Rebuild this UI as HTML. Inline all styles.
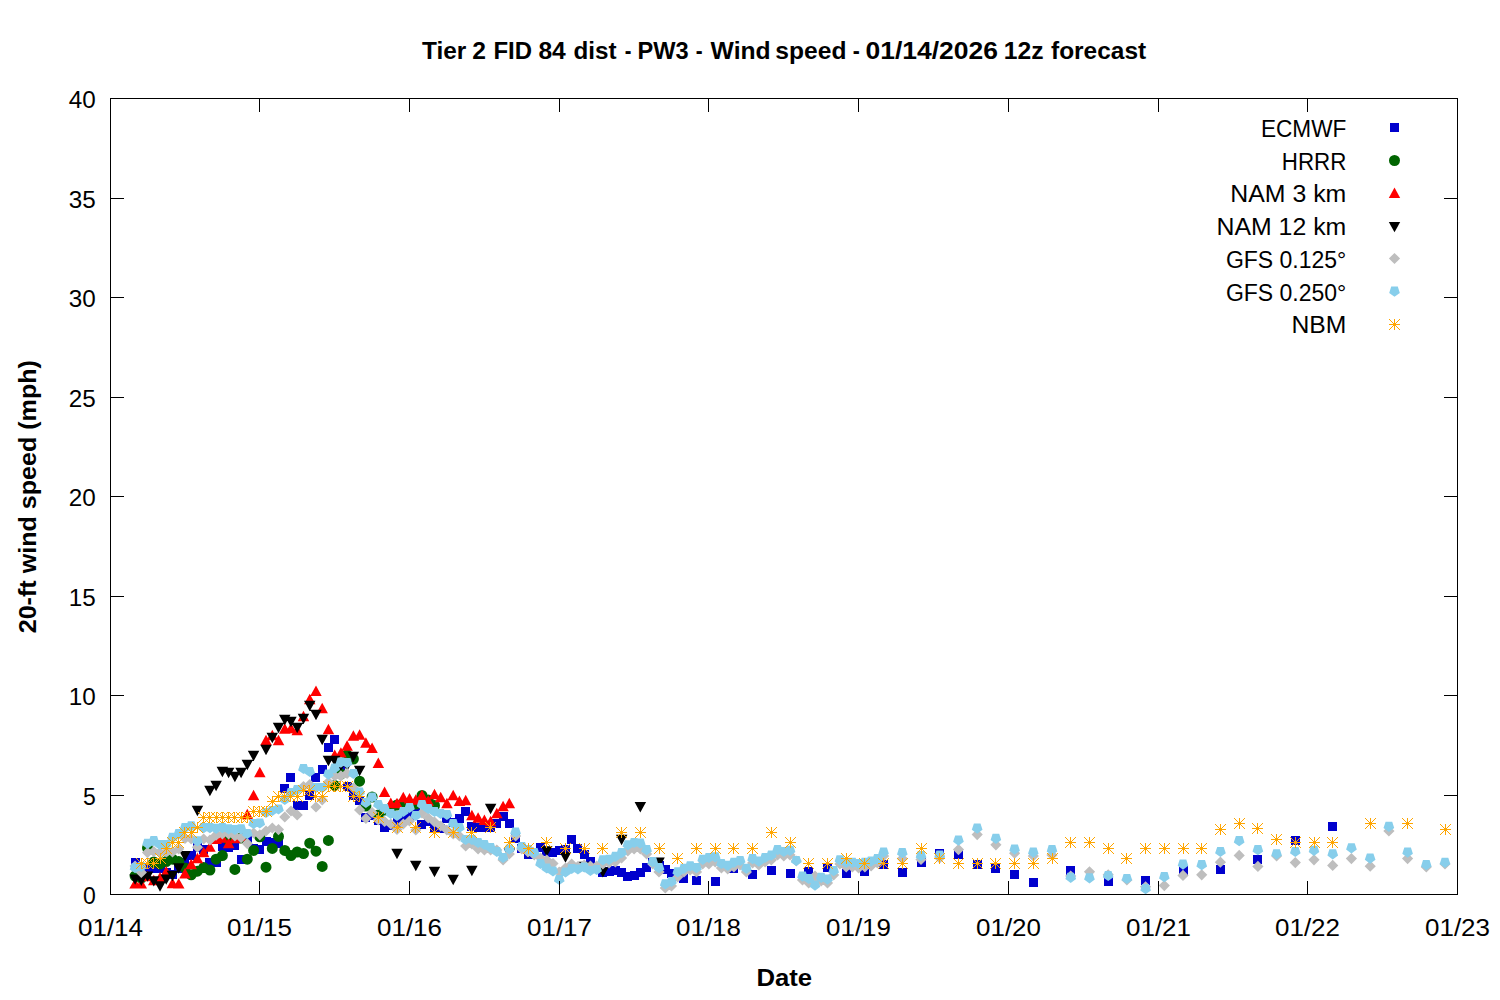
<!DOCTYPE html><html><head><meta charset="utf-8"><title>Wind speed forecast</title><style>html,body{margin:0;padding:0;background:#fff;}svg{display:block;}text{font-family:"Liberation Sans",sans-serif;fill:#000;}</style></head><body>
<svg width="1500" height="1000" viewBox="0 0 1500 1000">
<rect width="1500" height="1000" fill="#fff"/>
<path d="M131 858h9v9h-9zM137 863h9v9h-9zM143 863h9v9h-9zM149 864h9v9h-9zM156 864h9v9h-9zM162 868h9v9h-9zM168 870h9v9h-9zM174 864h9v9h-9zM180 858h9v9h-9zM187 851h9v9h-9zM193 843h9v9h-9zM199 845h9v9h-9zM205 858h9v9h-9zM212 858h9v9h-9zM218 842h9v9h-9zM224 843h9v9h-9zM230 841h9v9h-9zM237 855h9v9h-9zM243 836h9v9h-9zM249 844h9v9h-9zM255 845h9v9h-9zM262 837h9v9h-9zM268 838h9v9h-9zM274 839h9v9h-9zM280 784h9v9h-9zM286 773h9v9h-9zM293 801h9v9h-9zM299 801h9v9h-9zM305 791h9v9h-9zM311 773h9v9h-9zM318 765h9v9h-9zM324 743h9v9h-9zM330 735h9v9h-9zM336 766h9v9h-9zM343 782h9v9h-9zM349 791h9v9h-9zM355 796h9v9h-9zM361 813h9v9h-9zM368 811h9v9h-9zM374 816h9v9h-9zM380 823h9v9h-9zM386 821h9v9h-9zM393 818h9v9h-9zM399 814h9v9h-9zM405 811h9v9h-9zM411 803h9v9h-9zM417 820h9v9h-9zM424 817h9v9h-9zM430 824h9v9h-9zM436 824h9v9h-9zM442 814h9v9h-9zM449 818h9v9h-9zM455 814h9v9h-9zM461 807h9v9h-9zM467 822h9v9h-9zM474 823h9v9h-9zM480 823h9v9h-9zM486 823h9v9h-9zM492 819h9v9h-9zM499 812h9v9h-9zM505 819h9v9h-9zM511 834h9v9h-9zM517 844h9v9h-9zM524 850h9v9h-9zM530 850h9v9h-9zM536 843h9v9h-9zM542 847h9v9h-9zM548 848h9v9h-9zM555 846h9v9h-9zM561 845h9v9h-9zM567 835h9v9h-9zM573 844h9v9h-9zM580 850h9v9h-9zM586 857h9v9h-9zM592 863h9v9h-9zM598 868h9v9h-9zM605 867h9v9h-9zM611 866h9v9h-9zM617 868h9v9h-9zM623 872h9v9h-9zM630 871h9v9h-9zM636 868h9v9h-9zM642 863h9v9h-9zM648 858h9v9h-9zM655 861h9v9h-9zM661 865h9v9h-9zM667 869h9v9h-9zM673 872h9v9h-9zM679 874h9v9h-9zM692 876h9v9h-9zM711 877h9v9h-9zM729 864h9v9h-9zM748 870h9v9h-9zM767 866h9v9h-9zM786 869h9v9h-9zM804 867h9v9h-9zM823 863h9v9h-9zM842 869h9v9h-9zM860 867h9v9h-9zM879 860h9v9h-9zM898 868h9v9h-9zM917 858h9v9h-9zM935 849h9v9h-9zM954 850h9v9h-9zM973 860h9v9h-9zM991 864h9v9h-9zM1010 870h9v9h-9zM1029 878h9v9h-9zM1066 866h9v9h-9zM1104 877h9v9h-9zM1141 876h9v9h-9zM1179 866h9v9h-9zM1216 865h9v9h-9zM1253 855h9v9h-9zM1291 836h9v9h-9zM1328 822h9v9h-9z" fill="#0000cd"/>
<path d="M129.6 876a5.5 5.5 0 1 0 11.0 0a5.5 5.5 0 1 0 -11.0 0zM135.8 878a5.5 5.5 0 1 0 11.0 0a5.5 5.5 0 1 0 -11.0 0zM142 848a5.5 5.5 0 1 0 11.0 0a5.5 5.5 0 1 0 -11.0 0zM148.3 862a5.5 5.5 0 1 0 11.0 0a5.5 5.5 0 1 0 -11.0 0zM154.5 864a5.5 5.5 0 1 0 11.0 0a5.5 5.5 0 1 0 -11.0 0zM160.7 861.6a5.5 5.5 0 1 0 11.0 0a5.5 5.5 0 1 0 -11.0 0zM167 859.2a5.5 5.5 0 1 0 11.0 0a5.5 5.5 0 1 0 -11.0 0zM173.2 861.6a5.5 5.5 0 1 0 11.0 0a5.5 5.5 0 1 0 -11.0 0zM179.5 868a5.5 5.5 0 1 0 11.0 0a5.5 5.5 0 1 0 -11.0 0zM185.7 874.8a5.5 5.5 0 1 0 11.0 0a5.5 5.5 0 1 0 -11.0 0zM191.9 871.2a5.5 5.5 0 1 0 11.0 0a5.5 5.5 0 1 0 -11.0 0zM198.2 867.6a5.5 5.5 0 1 0 11.0 0a5.5 5.5 0 1 0 -11.0 0zM204.4 870a5.5 5.5 0 1 0 11.0 0a5.5 5.5 0 1 0 -11.0 0zM210.6 859.2a5.5 5.5 0 1 0 11.0 0a5.5 5.5 0 1 0 -11.0 0zM216.9 855.6a5.5 5.5 0 1 0 11.0 0a5.5 5.5 0 1 0 -11.0 0zM223.1 840a5.5 5.5 0 1 0 11.0 0a5.5 5.5 0 1 0 -11.0 0zM229.4 869.4a5.5 5.5 0 1 0 11.0 0a5.5 5.5 0 1 0 -11.0 0zM235.6 838a5.5 5.5 0 1 0 11.0 0a5.5 5.5 0 1 0 -11.0 0zM241.8 859.2a5.5 5.5 0 1 0 11.0 0a5.5 5.5 0 1 0 -11.0 0zM248.1 850.4a5.5 5.5 0 1 0 11.0 0a5.5 5.5 0 1 0 -11.0 0zM254.3 836.8a5.5 5.5 0 1 0 11.0 0a5.5 5.5 0 1 0 -11.0 0zM260.5 867.2a5.5 5.5 0 1 0 11.0 0a5.5 5.5 0 1 0 -11.0 0zM266.8 848.4a5.5 5.5 0 1 0 11.0 0a5.5 5.5 0 1 0 -11.0 0zM273 836.4a5.5 5.5 0 1 0 11.0 0a5.5 5.5 0 1 0 -11.0 0zM279.3 850.4a5.5 5.5 0 1 0 11.0 0a5.5 5.5 0 1 0 -11.0 0zM285.5 855.6a5.5 5.5 0 1 0 11.0 0a5.5 5.5 0 1 0 -11.0 0zM291.7 852a5.5 5.5 0 1 0 11.0 0a5.5 5.5 0 1 0 -11.0 0zM298 853.6a5.5 5.5 0 1 0 11.0 0a5.5 5.5 0 1 0 -11.0 0zM304.2 843.2a5.5 5.5 0 1 0 11.0 0a5.5 5.5 0 1 0 -11.0 0zM310.5 851.2a5.5 5.5 0 1 0 11.0 0a5.5 5.5 0 1 0 -11.0 0zM316.7 866.4a5.5 5.5 0 1 0 11.0 0a5.5 5.5 0 1 0 -11.0 0zM322.9 840.4a5.5 5.5 0 1 0 11.0 0a5.5 5.5 0 1 0 -11.0 0zM329.2 785.4a5.5 5.5 0 1 0 11.0 0a5.5 5.5 0 1 0 -11.0 0zM335.4 774a5.5 5.5 0 1 0 11.0 0a5.5 5.5 0 1 0 -11.0 0zM341.6 754.8a5.5 5.5 0 1 0 11.0 0a5.5 5.5 0 1 0 -11.0 0zM347.9 759a5.5 5.5 0 1 0 11.0 0a5.5 5.5 0 1 0 -11.0 0zM354.1 781.2a5.5 5.5 0 1 0 11.0 0a5.5 5.5 0 1 0 -11.0 0zM360.4 806a5.5 5.5 0 1 0 11.0 0a5.5 5.5 0 1 0 -11.0 0zM366.6 797a5.5 5.5 0 1 0 11.0 0a5.5 5.5 0 1 0 -11.0 0zM372.8 815a5.5 5.5 0 1 0 11.0 0a5.5 5.5 0 1 0 -11.0 0zM379.1 810a5.5 5.5 0 1 0 11.0 0a5.5 5.5 0 1 0 -11.0 0zM385.3 808a5.5 5.5 0 1 0 11.0 0a5.5 5.5 0 1 0 -11.0 0zM391.5 805a5.5 5.5 0 1 0 11.0 0a5.5 5.5 0 1 0 -11.0 0zM397.8 803a5.5 5.5 0 1 0 11.0 0a5.5 5.5 0 1 0 -11.0 0zM404 806a5.5 5.5 0 1 0 11.0 0a5.5 5.5 0 1 0 -11.0 0zM410.3 804a5.5 5.5 0 1 0 11.0 0a5.5 5.5 0 1 0 -11.0 0zM416.5 795.5a5.5 5.5 0 1 0 11.0 0a5.5 5.5 0 1 0 -11.0 0zM422.7 800a5.5 5.5 0 1 0 11.0 0a5.5 5.5 0 1 0 -11.0 0zM429 805.5a5.5 5.5 0 1 0 11.0 0a5.5 5.5 0 1 0 -11.0 0z" fill="#006400"/>
<path d="M135.1 878.2L140.8 888.6H129.3zM141.3 878.2L147 888.6H135.5zM147.5 870.8L153.3 881.2H141.8zM153.8 874.8L159.5 885.2H148zM160 872L165.8 882.4H154.3zM166.2 866L172 876.4H160.5zM172.5 877.8L178.2 888.2H166.7zM178.7 878.2L184.5 888.6H173zM185 868L190.7 878.4H179.2zM191.2 858.8L196.9 869.2H185.4zM197.4 852.8L203.2 863.2H191.7zM203.7 846.8L209.4 857.2H197.9zM209.9 841.4L215.7 851.8H204.2zM216.1 833.6L221.9 844H210.4zM222.4 832.4L228.1 842.8H216.6zM228.6 837.8L234.4 848.2H222.9zM234.9 832.8L240.6 843.2H229.1zM241.1 830.8L246.8 841.2H235.3zM247.3 808.8L253.1 819.2H241.6zM253.6 789.8L259.3 800.2H247.8zM259.8 766.8L265.6 777.2H254.1zM266 734.8L271.8 745.2H260.3zM272.3 729.8L278 740.2H266.5zM278.5 734.8L284.3 745.2H272.8zM284.8 723.3L290.5 733.7H279zM291 722.8L296.7 733.2H285.2zM297.2 724.8L303 735.2H291.5zM303.5 710.8L309.2 721.2H297.7zM309.7 693.8L315.5 704.2H304zM316 685.5L321.7 695.9H310.2zM322.2 702.8L327.9 713.2H316.4zM328.4 723.8L334.2 734.2H322.7zM334.7 749.6L340.4 760H328.9zM340.9 747.2L346.7 757.6H335.2zM347.1 740.3L352.9 750.7H341.4zM353.4 730.3L359.1 740.7H347.6zM359.6 729.3L365.4 739.7H353.9zM365.9 737.3L371.6 747.7H360.1zM372.1 742.5L377.8 752.9H366.3zM378.3 757.6L384.1 768H372.6zM384.6 786.6L390.3 797H378.8zM390.8 797.6L396.6 808H385.1zM397 797.8L402.8 808.2H391.3zM403.3 791.8L409 802.2H397.5zM409.5 793L415.3 803.4H403.8zM415.8 794.3L421.5 804.7H410zM422 789.8L427.7 800.2H416.2zM428.2 795.3L434 805.7H422.5zM434.5 788.8L440.2 799.2H428.7zM440.7 791.8L446.5 802.2H435zM446.9 797.8L452.7 808.2H441.2zM453.2 789.8L458.9 800.2H447.4zM459.4 795.6L465.2 806H453.7zM465.7 794.8L471.4 805.2H459.9zM471.9 809.8L477.6 820.2H466.1zM478.1 812.3L483.9 822.7H472.4zM484.4 814.6L490.1 825H478.6zM490.6 815.8L496.4 826.2H484.9zM496.8 807.8L502.6 818.2H491.1zM503.1 800.8L508.8 811.2H497.3zM509.3 797.8L515.1 808.2H503.6z" fill="#ff0000"/>
<path d="M135.1 884.8L140.8 874.4H129.3zM141.3 886L147 875.6H135.5zM147.5 881.8L153.3 871.4H141.8zM153.8 886.6L159.5 876.2H148zM160 891.7L165.8 881.3H154.3zM166.2 884.8L172 874.4H160.5zM172.5 881.2L178.2 870.8H166.7zM178.7 873.7L184.5 863.3H173zM185 861.5L190.7 851.1H179.2zM197.4 816.2L203.2 805.8H191.7zM209.9 796.2L215.7 785.8H204.2zM216.1 791.2L221.9 780.8H210.4zM222.4 777.2L228.1 766.8H216.6zM228.6 778.2L234.4 767.8H222.9zM234.9 782.2L240.6 771.8H229.1zM241.1 778.2L246.8 767.8H235.3zM247.3 770.2L253.1 759.8H241.6zM253.6 761.2L259.3 750.8H247.8zM266 755.2L271.8 744.8H260.3zM272.3 743.2L278 732.8H266.5zM278.5 733.2L284.3 722.8H272.8zM284.8 725.2L290.5 714.8H279zM291 727.2L296.7 716.8H285.2zM297.2 733.2L303 722.8H291.5zM303.5 724.2L309.2 713.8H297.7zM309.7 711.2L315.5 700.8H304zM316 720.2L321.7 709.8H310.2zM322.2 745.2L327.9 734.8H316.4zM328.4 766.2L334.2 755.8H322.7zM334.7 766.2L340.4 755.8H328.9zM340.9 771.2L346.7 760.8H335.2zM347.1 771.2L352.9 760.8H341.4zM353.4 762.2L359.1 751.8H347.6zM359.6 776.2L365.4 765.8H353.9zM397 859.2L402.8 848.8H391.3zM415.8 871.2L421.5 860.8H410zM434.5 877.2L440.2 866.8H428.7zM453.2 885.2L458.9 874.8H447.4zM471.9 876.2L477.6 865.8H466.1zM490.6 814.2L496.4 803.8H484.9zM509.3 858.8L515.1 848.4H503.6zM528 858.2L533.8 847.8H522.3zM546.8 856.6L552.5 846.2H541zM565.5 862.7L571.2 852.3H559.7zM584.2 872.2L589.9 861.8H578.4zM602.9 877.6L608.6 867.2H597.1zM621.6 845.2L627.4 834.8H615.9zM640.3 812.4L646.1 802H634.6zM659 868L664.8 857.6H653.3z" fill="#000000"/>
<path d="M135.1 860.4L140.7 866L135.1 871.6L129.5 866zM141.3 866.8L146.9 872.4L141.3 878L135.7 872.4zM147.5 847L153.1 852.6L147.5 858.2L141.9 852.6zM153.8 846L159.4 851.6L153.8 857.2L148.2 851.6zM160 847L165.6 852.6L160 858.2L154.4 852.6zM166.2 846.4L171.8 852L166.2 857.6L160.6 852zM172.5 846.4L178.1 852L172.5 857.6L166.9 852zM178.7 843.4L184.3 849L178.7 854.6L173.1 849zM185 832.9L190.6 838.5L185 844.1L179.4 838.5zM191.2 833.4L196.8 839L191.2 844.6L185.6 839zM197.4 841.6L203 847.2L197.4 852.8L191.8 847.2zM203.7 833.4L209.3 839L203.7 844.6L198.1 839zM209.9 834.4L215.5 840L209.9 845.6L204.3 840zM216.1 829.6L221.7 835.2L216.1 840.8L210.5 835.2zM222.4 828.4L228 834L222.4 839.6L216.8 834zM228.6 828.4L234.2 834L228.6 839.6L223 834zM234.9 830.4L240.5 836L234.9 841.6L229.3 836zM241.1 832L246.7 837.6L241.1 843.2L235.5 837.6zM247.3 838L252.9 843.6L247.3 849.2L241.7 843.6zM253.6 827.4L259.2 833L253.6 838.6L248 833zM259.8 829.2L265.4 834.8L259.8 840.4L254.2 834.8zM266 825.4L271.6 831L266 836.6L260.4 831zM272.3 822.4L277.9 828L272.3 833.6L266.7 828zM278.5 824L284.1 829.6L278.5 835.2L272.9 829.6zM284.8 811.4L290.4 817L284.8 822.6L279.2 817zM291 805.4L296.6 811L291 816.6L285.4 811zM297.2 809.4L302.8 815L297.2 820.6L291.6 815zM303.5 781L309.1 786.6L303.5 792.2L297.9 786.6zM309.7 779L315.3 784.6L309.7 790.2L304.1 784.6zM316 801.4L321.6 807L316 812.6L310.4 807zM322.2 794.4L327.8 800L322.2 805.6L316.6 800zM328.4 776.4L334 782L328.4 787.6L322.8 782zM334.7 770.4L340.3 776L334.7 781.6L329.1 776zM340.9 770.2L346.5 775.8L340.9 781.4L335.3 775.8zM347.1 767.8L352.7 773.4L347.1 779L341.5 773.4zM353.4 782.4L359 788L353.4 793.6L347.8 788zM359.6 804.4L365.2 810L359.6 815.6L354 810zM365.9 812.9L371.5 818.5L365.9 824.1L360.3 818.5zM372.1 806.9L377.7 812.5L372.1 818.1L366.5 812.5zM378.3 814.4L383.9 820L378.3 825.6L372.7 820zM384.6 815.9L390.2 821.5L384.6 827.1L379 821.5zM390.8 818.4L396.4 824L390.8 829.6L385.2 824zM397 823.9L402.6 829.5L397 835.1L391.4 829.5zM403.3 818.4L408.9 824L403.3 829.6L397.7 824zM409.5 815.4L415.1 821L409.5 826.6L403.9 821zM415.8 824.4L421.4 830L415.8 835.6L410.2 830zM422 807.4L427.6 813L422 818.6L416.4 813zM428.2 812.4L433.8 818L428.2 823.6L422.6 818zM434.5 816.4L440.1 822L434.5 827.6L428.9 822zM440.7 820.4L446.3 826L440.7 831.6L435.1 826zM446.9 824.4L452.5 830L446.9 835.6L441.3 830zM453.2 828.4L458.8 834L453.2 839.6L447.6 834zM459.4 830.4L465 836L459.4 841.6L453.8 836zM465.7 840.4L471.3 846L465.7 851.6L460.1 846zM471.9 838.4L477.5 844L471.9 849.6L466.3 844zM478.1 843.4L483.7 849L478.1 854.6L472.5 849zM484.4 844.4L490 850L484.4 855.6L478.8 850zM490.6 844.4L496.2 850L490.6 855.6L485 850zM496.8 844.4L502.4 850L496.8 855.6L491.2 850zM503.1 854.4L508.7 860L503.1 865.6L497.5 860zM509.3 848.4L514.9 854L509.3 859.6L503.7 854zM515.6 830.4L521.2 836L515.6 841.6L510 836zM521.8 843.4L527.4 849L521.8 854.6L516.2 849zM528 846.4L533.6 852L528 857.6L522.4 852zM534.3 849.4L539.9 855L534.3 860.6L528.7 855zM540.5 852.4L546.1 858L540.5 863.6L534.9 858zM546.8 854.4L552.4 860L546.8 865.6L541.2 860zM553 857.9L558.6 863.5L553 869.1L547.4 863.5zM559.2 866.4L564.8 872L559.2 877.6L553.6 872zM565.5 862.4L571.1 868L565.5 873.6L559.9 868zM571.7 858.4L577.3 864L571.7 869.6L566.1 864zM577.9 860.9L583.5 866.5L577.9 872.1L572.3 866.5zM584.2 859.4L589.8 865L584.2 870.6L578.6 865zM590.4 860.4L596 866L590.4 871.6L584.8 866zM596.7 860.4L602.3 866L596.7 871.6L591.1 866zM602.9 858.4L608.5 864L602.9 869.6L597.3 864zM609.1 857.4L614.7 863L609.1 868.6L603.5 863zM615.4 856.4L621 862L615.4 867.6L609.8 862zM621.6 852.4L627.2 858L621.6 863.6L616 858zM627.8 845.4L633.4 851L627.8 856.6L622.2 851zM634.1 843.4L639.7 849L634.1 854.6L628.5 849zM640.3 843.4L645.9 849L640.3 854.6L634.7 849zM646.6 848.4L652.2 854L646.6 859.6L641 854zM652.8 858.4L658.4 864L652.8 869.6L647.2 864zM659 866.4L664.6 872L659 877.6L653.4 872zM665.3 882.4L670.9 888L665.3 893.6L659.7 888zM671.5 880.4L677.1 886L671.5 891.6L665.9 886zM677.7 871.4L683.3 877L677.7 882.6L672.1 877zM684 866.4L689.6 872L684 877.6L678.4 872zM690.2 864.4L695.8 870L690.2 875.6L684.6 870zM696.5 866.4L702.1 872L696.5 877.6L690.9 872zM702.7 858.4L708.3 864L702.7 869.6L697.1 864zM708.9 858.4L714.5 864L708.9 869.6L703.3 864zM715.2 856.4L720.8 862L715.2 867.6L709.6 862zM721.4 862.4L727 868L721.4 873.6L715.8 868zM727.7 863.4L733.3 869L727.7 874.6L722.1 869zM733.9 861.4L739.5 867L733.9 872.6L728.3 867zM740.1 859.4L745.7 865L740.1 870.6L734.5 865zM746.4 866.4L752 872L746.4 877.6L740.8 872zM752.6 857.4L758.2 863L752.6 868.6L747 863zM758.8 859.4L764.4 865L758.8 870.6L753.2 865zM765.1 856.4L770.7 862L765.1 867.6L759.5 862zM771.3 854.4L776.9 860L771.3 865.6L765.7 860zM777.6 849.4L783.2 855L777.6 860.6L772 855zM783.8 850.4L789.4 856L783.8 861.6L778.2 856zM790 849.4L795.6 855L790 860.6L784.4 855zM796.3 855.4L801.9 861L796.3 866.6L790.7 861zM802.5 874.4L808.1 880L802.5 885.6L796.9 880zM808.7 877.4L814.3 883L808.7 888.6L803.1 883zM815 870.4L820.6 876L815 881.6L809.4 876zM821.2 875.4L826.8 881L821.2 886.6L815.6 881zM827.5 877.4L833.1 883L827.5 888.6L821.9 883zM833.7 869.4L839.3 875L833.7 880.6L828.1 875zM839.9 858.4L845.5 864L839.9 869.6L834.3 864zM846.2 861.4L851.8 867L846.2 872.6L840.6 867zM852.4 861.4L858 867L852.4 872.6L846.8 867zM858.6 862.4L864.2 868L858.6 873.6L853 868zM864.9 861.4L870.5 867L864.9 872.6L859.3 867zM871.1 860.4L876.7 866L871.1 871.6L865.5 866zM877.4 857.4L883 863L877.4 868.6L871.8 863zM883.6 850.4L889.2 856L883.6 861.6L878 856zM902.3 853L907.9 858.6L902.3 864.2L896.7 858.6zM921 853.9L926.6 859.5L921 865.1L915.4 859.5zM939.7 852.4L945.3 858L939.7 863.6L934.1 858zM958.5 844L964.1 849.6L958.5 855.2L952.9 849.6zM977.2 829L982.8 834.6L977.2 840.2L971.6 834.6zM995.9 839.2L1001.5 844.8L995.9 850.4L990.3 844.8zM1014.6 847.6L1020.2 853.2L1014.6 858.8L1009 853.2zM1033.3 850.4L1038.9 856L1033.3 861.6L1027.7 856zM1052 849.4L1057.6 855L1052 860.6L1046.4 855zM1070.7 870.4L1076.3 876L1070.7 881.6L1065.1 876zM1089.5 866.2L1095.1 871.8L1089.5 877.4L1083.9 871.8zM1108.2 869.2L1113.8 874.8L1108.2 880.4L1102.6 874.8zM1126.9 874.4L1132.5 880L1126.9 885.6L1121.3 880zM1145.6 881.2L1151.2 886.8L1145.6 892.4L1140 886.8zM1164.3 880L1169.9 885.6L1164.3 891.2L1158.7 885.6zM1183 869.8L1188.6 875.4L1183 881L1177.4 875.4zM1201.7 869.2L1207.3 874.8L1201.7 880.4L1196.1 874.8zM1220.4 856.6L1226 862.2L1220.4 867.8L1214.8 862.2zM1239.2 849.8L1244.8 855.4L1239.2 861L1233.6 855.4zM1257.9 860.8L1263.5 866.4L1257.9 872L1252.3 866.4zM1276.6 850.4L1282.2 856L1276.6 861.6L1271 856zM1295.3 857L1300.9 862.6L1295.3 868.2L1289.7 862.6zM1314 854.2L1319.6 859.8L1314 865.4L1308.4 859.8zM1332.7 859.8L1338.3 865.4L1332.7 871L1327.1 865.4zM1351.4 853L1357 858.6L1351.4 864.2L1345.8 858.6zM1370.2 860.6L1375.8 866.2L1370.2 871.8L1364.6 866.2zM1388.9 825.4L1394.5 831L1388.9 836.6L1383.3 831zM1407.6 853L1413.2 858.6L1407.6 864.2L1402 858.6zM1426.3 861.4L1431.9 867L1426.3 872.6L1420.7 867zM1445 858.4L1450.6 864L1445 869.6L1439.4 864z" fill="#bebebe"/>
<path d="M135.1 873.3L129.7 869.4L131.8 863.1L138.3 863.1L140.4 869.4zM141.3 872.1L136 868.2L138 861.9L144.6 861.9L146.6 868.2zM147.5 848.9L142.2 845L144.2 838.7L150.8 838.7L152.9 845zM153.8 846.3L148.4 842.4L150.5 836.1L157.1 836.1L159.1 842.4zM160 850.1L154.7 846.2L156.7 839.9L163.3 839.9L165.3 846.2zM166.2 850.1L160.9 846.2L162.9 839.9L169.5 839.9L171.6 846.2zM172.5 842.9L167.2 839L169.2 832.7L175.8 832.7L177.8 839zM178.7 839.3L173.4 835.4L175.4 829.1L182 829.1L184 835.4zM185 833.3L179.6 829.4L181.7 823.1L188.2 823.1L190.3 829.4zM191.2 831.5L185.9 827.6L187.9 821.3L194.5 821.3L196.5 827.6zM197.4 846.5L192.1 842.6L194.1 836.3L200.7 836.3L202.8 842.6zM203.7 833.3L198.3 829.4L200.4 823.1L207 823.1L209 829.4zM209.9 833.3L204.6 829.4L206.6 823.1L213.2 823.1L215.2 829.4zM216.1 833.9L210.8 830L212.9 823.7L219.4 823.7L221.5 830zM222.4 833.3L217.1 829.4L219.1 823.1L225.7 823.1L227.7 829.4zM228.6 834.5L223.3 830.6L225.3 824.3L231.9 824.3L233.9 830.6zM234.9 835.1L229.5 831.2L231.6 824.9L238.1 824.9L240.2 831.2zM241.1 834.5L235.8 830.6L237.8 824.3L244.4 824.3L246.4 830.6zM247.3 839.1L242 835.2L244 828.9L250.6 828.9L252.7 835.2zM253.6 829.1L248.2 825.2L250.3 818.9L256.9 818.9L258.9 825.2zM259.8 828.6L254.5 824.7L256.5 818.4L263.1 818.4L265.1 824.7zM266 818.1L260.7 814.2L262.8 807.9L269.3 807.9L271.4 814.2zM272.3 816.1L267 812.2L269 805.9L275.6 805.9L277.6 812.2zM278.5 814.6L273.2 810.7L275.2 804.4L281.8 804.4L283.8 810.7zM284.8 805.1L279.4 801.2L281.5 794.9L288.1 794.9L290.1 801.2zM291 798.1L285.7 794.2L287.7 787.9L294.3 787.9L296.3 794.2zM297.2 795.1L291.9 791.2L293.9 784.9L300.5 784.9L302.6 791.2zM303.5 774.1L298.1 770.2L300.2 763.9L306.8 763.9L308.8 770.2zM309.7 777.1L304.4 773.2L306.4 766.9L313 766.9L315 773.2zM316 793.1L310.6 789.2L312.7 782.9L319.2 782.9L321.3 789.2zM322.2 793.1L316.9 789.2L318.9 782.9L325.5 782.9L327.5 789.2zM328.4 779.7L323.1 775.8L325.1 769.5L331.7 769.5L333.8 775.8zM334.7 773.7L329.3 769.8L331.4 763.5L338 763.5L340 769.8zM340.9 767.7L335.6 763.8L337.6 757.5L344.2 757.5L346.2 763.8zM347.1 768.3L341.8 764.4L343.8 758.1L350.4 758.1L352.5 764.4zM353.4 779.1L348.1 775.2L350.1 768.9L356.7 768.9L358.7 775.2zM359.6 797.6L354.3 793.7L356.3 787.4L362.9 787.4L364.9 793.7zM365.9 808.1L360.5 804.2L362.6 797.9L369.1 797.9L371.2 804.2zM372.1 802.6L366.8 798.7L368.8 792.4L375.4 792.4L377.4 798.7zM378.3 810.1L373 806.2L375 799.9L381.6 799.9L383.7 806.2zM384.6 814.1L379.2 810.2L381.3 803.9L387.9 803.9L389.9 810.2zM390.8 819.1L385.5 815.2L387.5 808.9L394.1 808.9L396.1 815.2zM397 821.1L391.7 817.2L393.8 810.9L400.3 810.9L402.4 817.2zM403.3 817.1L398 813.2L400 806.9L406.6 806.9L408.6 813.2zM409.5 813.1L404.2 809.2L406.2 802.9L412.8 802.9L414.8 809.2zM415.8 821.1L410.4 817.2L412.5 810.9L419 810.9L421.1 817.2zM422 810.1L416.7 806.2L418.7 799.9L425.3 799.9L427.3 806.2zM428.2 814.1L422.9 810.2L424.9 803.9L431.5 803.9L433.6 810.2zM434.5 817.1L429.1 813.2L431.2 806.9L437.8 806.9L439.8 813.2zM440.7 819.1L435.4 815.2L437.4 808.9L444 808.9L446 815.2zM446.9 820.1L441.6 816.2L443.7 809.9L450.2 809.9L452.3 816.2zM453.2 829.1L447.9 825.2L449.9 818.9L456.5 818.9L458.5 825.2zM459.4 833.1L454.1 829.2L456.1 822.9L462.7 822.9L464.7 829.2zM465.7 845.1L460.3 841.2L462.4 834.9L469 834.9L471 841.2zM471.9 845.1L466.6 841.2L468.6 834.9L475.2 834.9L477.2 841.2zM478.1 848.1L472.8 844.2L474.8 837.9L481.4 837.9L483.5 844.2zM484.4 850.1L479 846.2L481.1 839.9L487.7 839.9L489.7 846.2zM490.6 853.1L485.3 849.2L487.3 842.9L493.9 842.9L495.9 849.2zM496.8 857.1L491.5 853.2L493.6 846.9L500.1 846.9L502.2 853.2zM503.1 863.1L497.8 859.2L499.8 852.9L506.4 852.9L508.4 859.2zM509.3 854.6L504 850.7L506 844.4L512.6 844.4L514.7 850.7zM515.6 837.6L510.2 833.7L512.3 827.4L518.9 827.4L520.9 833.7zM521.8 852.1L516.5 848.2L518.5 841.9L525.1 841.9L527.1 848.2zM528 855.1L522.7 851.2L524.7 844.9L531.3 844.9L533.4 851.2zM534.3 858.1L529 854.2L531 847.9L537.6 847.9L539.6 854.2zM540.5 869.1L535.2 865.2L537.2 858.9L543.8 858.9L545.8 865.2zM546.8 873.6L541.4 869.7L543.5 863.4L550 863.4L552.1 869.7zM553 876.6L547.7 872.7L549.7 866.4L556.3 866.4L558.3 872.7zM559.2 885.1L553.9 881.2L555.9 874.9L562.5 874.9L564.6 881.2zM565.5 877.6L560.1 873.7L562.2 867.4L568.8 867.4L570.8 873.7zM571.7 874.1L566.4 870.2L568.4 863.9L575 863.9L577 870.2zM577.9 874.6L572.6 870.7L574.7 864.4L581.2 864.4L583.3 870.7zM584.2 872.6L578.9 868.7L580.9 862.4L587.5 862.4L589.5 868.7zM590.4 876.1L585.1 872.2L587.1 865.9L593.7 865.9L595.7 872.2zM596.7 875.1L591.3 871.2L593.4 864.9L599.9 864.9L602 871.2zM602.9 865.5L597.6 861.6L599.6 855.3L606.2 855.3L608.2 861.6zM609.1 864.9L603.8 861L605.8 854.7L612.4 854.7L614.5 861zM615.4 861.9L610 858L612.1 851.7L618.7 851.7L620.7 858zM621.6 858.3L616.3 854.4L618.3 848.1L624.9 848.1L626.9 854.4zM627.8 850.5L622.5 846.6L624.6 840.3L631.1 840.3L633.2 846.6zM634.1 848.1L628.8 844.2L630.8 837.9L637.4 837.9L639.4 844.2zM640.3 848.7L635 844.8L637 838.5L643.6 838.5L645.6 844.8zM646.6 855.3L641.2 851.4L643.3 845.1L649.9 845.1L651.9 851.4zM652.8 867.3L647.5 863.4L649.5 857.1L656.1 857.1L658.1 863.4zM659 873.3L653.7 869.4L655.7 863.1L662.3 863.1L664.4 869.4zM665.3 889.5L659.9 885.6L662 879.3L668.6 879.3L670.6 885.6zM671.5 887.1L666.2 883.2L668.2 876.9L674.8 876.9L676.8 883.2zM677.7 877.5L672.4 873.6L674.5 867.3L681 867.3L683.1 873.6zM684 873.9L678.7 870L680.7 863.7L687.3 863.7L689.3 870zM690.2 871.5L684.9 867.6L686.9 861.3L693.5 861.3L695.6 867.6zM696.5 873.3L691.1 869.4L693.2 863.1L699.8 863.1L701.8 869.4zM702.7 864.9L697.4 861L699.4 854.7L706 854.7L708 861zM708.9 863.1L703.6 859.2L705.6 852.9L712.2 852.9L714.3 859.2zM715.2 862.5L709.9 858.6L711.9 852.3L718.5 852.3L720.5 858.6zM721.4 869.1L716.1 865.2L718.1 858.9L724.7 858.9L726.7 865.2zM727.7 870.9L722.3 867L724.4 860.7L730.9 860.7L733 867zM733.9 867.9L728.6 864L730.6 857.7L737.2 857.7L739.2 864zM740.1 866.1L734.8 862.2L736.8 855.9L743.4 855.9L745.5 862.2zM746.4 873.9L741 870L743.1 863.7L749.7 863.7L751.7 870zM752.6 864.3L747.3 860.4L749.3 854.1L755.9 854.1L757.9 860.4zM758.8 866.7L753.5 862.8L755.6 856.5L762.1 856.5L764.2 862.8zM765.1 863.1L759.8 859.2L761.8 852.9L768.4 852.9L770.4 859.2zM771.3 860.7L766 856.8L768 850.5L774.6 850.5L776.6 856.8zM777.6 855.3L772.2 851.4L774.3 845.1L780.8 845.1L782.9 851.4zM783.8 857.1L778.5 853.2L780.5 846.9L787.1 846.9L789.1 853.2zM790 855.9L784.7 852L786.7 845.7L793.3 845.7L795.4 852zM796.3 866.1L790.9 862.2L793 855.9L799.6 855.9L801.6 862.2zM802.5 881.7L797.2 877.8L799.2 871.5L805.8 871.5L807.8 877.8zM808.7 884.1L803.4 880.2L805.5 873.9L812 873.9L814.1 880.2zM815 890.7L809.7 886.8L811.7 880.5L818.3 880.5L820.3 886.8zM821.2 882.9L815.9 879L817.9 872.7L824.5 872.7L826.5 879zM827.5 884.7L822.1 880.8L824.2 874.5L830.8 874.5L832.8 880.8zM833.7 876.3L828.4 872.4L830.4 866.1L837 866.1L839 872.4zM839.9 865.5L834.6 861.6L836.6 855.3L843.2 855.3L845.3 861.6zM846.2 867.9L840.8 864L842.9 857.7L849.5 857.7L851.5 864zM852.4 867.9L847.1 864L849.1 857.7L855.7 857.7L857.7 864zM858.6 869.1L853.3 865.2L855.4 858.9L861.9 858.9L864 865.2zM864.9 867.9L859.6 864L861.6 857.7L868.2 857.7L870.2 864zM871.1 866.7L865.8 862.8L867.8 856.5L874.4 856.5L876.4 862.8zM877.4 864.3L872 860.4L874.1 854.1L880.7 854.1L882.7 860.4zM883.6 857.7L878.3 853.8L880.3 847.5L886.9 847.5L888.9 853.8zM902.3 858.3L897 854.4L899 848.1L905.6 848.1L907.6 854.4zM921 861.3L915.7 857.4L917.7 851.1L924.3 851.1L926.4 857.4zM939.7 860.7L934.4 856.8L936.4 850.5L943 850.5L945.1 856.8zM958.5 845.7L953.1 841.8L955.2 835.5L961.7 835.5L963.8 841.8zM977.2 833.7L971.8 829.8L973.9 823.5L980.5 823.5L982.5 829.8zM995.9 843.9L990.6 840L992.6 833.7L999.2 833.7L1001.2 840zM1014.6 854.7L1009.3 850.8L1011.3 844.5L1017.9 844.5L1019.9 850.8zM1033.3 857.7L1028 853.8L1030 847.5L1036.6 847.5L1038.6 853.8zM1052 855.3L1046.7 851.4L1048.7 845.1L1055.3 845.1L1057.3 851.4zM1070.7 882.9L1065.4 879L1067.4 872.7L1074 872.7L1076.1 879zM1089.5 883.5L1084.1 879.6L1086.2 873.3L1092.7 873.3L1094.8 879.6zM1108.2 881.1L1102.8 877.2L1104.9 870.9L1111.5 870.9L1113.5 877.2zM1126.9 884.1L1121.6 880.2L1123.6 873.9L1130.2 873.9L1132.2 880.2zM1145.6 894.3L1140.3 890.4L1142.3 884.1L1148.9 884.1L1150.9 890.4zM1164.3 882.3L1159 878.4L1161 872.1L1167.6 872.1L1169.6 878.4zM1183 869.7L1177.7 865.8L1179.7 859.5L1186.3 859.5L1188.3 865.8zM1201.7 870.3L1196.4 866.4L1198.4 860.1L1205 860.1L1207.1 866.4zM1220.4 857.1L1215.1 853.2L1217.2 846.9L1223.7 846.9L1225.8 853.2zM1239.2 846.3L1233.8 842.4L1235.9 836.1L1242.5 836.1L1244.5 842.4zM1257.9 855.3L1252.5 851.4L1254.6 845.1L1261.2 845.1L1263.2 851.4zM1276.6 859.5L1271.3 855.6L1273.3 849.3L1279.9 849.3L1281.9 855.6zM1295.3 857.1L1290 853.2L1292 846.9L1298.6 846.9L1300.6 853.2zM1314 855.9L1308.7 852L1310.7 845.7L1317.3 845.7L1319.3 852zM1332.7 859.5L1327.4 855.6L1329.4 849.3L1336 849.3L1338.1 855.6zM1351.4 853.5L1346.1 849.6L1348.2 843.3L1354.7 843.3L1356.8 849.6zM1370.2 863.7L1364.8 859.8L1366.9 853.5L1373.4 853.5L1375.5 859.8zM1388.9 831.9L1383.5 828L1385.6 821.7L1392.2 821.7L1394.2 828zM1407.6 857.7L1402.3 853.8L1404.3 847.5L1410.9 847.5L1412.9 853.8zM1426.3 870.3L1421 866.4L1423 860.1L1429.6 860.1L1431.6 866.4zM1445 867.9L1439.7 864L1441.7 857.7L1448.3 857.7L1450.3 864z" fill="#87ceeb"/>
<path d="M136 863.5h11.0M141.5 858v11.0M136 858l11.0 11.0M136 869l11.0 -11.0M142 863.5h11.0M147.5 858v11.0M142 858l11.0 11.0M142 869l11.0 -11.0M148 863.5h11.0M153.5 858v11.0M148 858l11.0 11.0M148 869l11.0 -11.0M155 858.5h11.0M160.5 853v11.0M155 853l11.0 11.0M155 864l11.0 -11.0M161 848.5h11.0M166.5 843v11.0M161 843l11.0 11.0M161 854l11.0 -11.0M167 842.5h11.0M172.5 837v11.0M167 837l11.0 11.0M167 848l11.0 -11.0M173 842.5h11.0M178.5 837v11.0M173 837l11.0 11.0M173 848l11.0 -11.0M179 832.5h11.0M184.5 827v11.0M179 827l11.0 11.0M179 838l11.0 -11.0M186 832.5h11.0M191.5 827v11.0M186 827l11.0 11.0M186 838l11.0 -11.0M192 827.5h11.0M197.5 822v11.0M192 822l11.0 11.0M192 833l11.0 -11.0M198 817.5h11.0M203.5 812v11.0M198 812l11.0 11.0M198 823l11.0 -11.0M204 817.5h11.0M209.5 812v11.0M204 812l11.0 11.0M204 823l11.0 -11.0M211 817.5h11.0M216.5 812v11.0M211 812l11.0 11.0M211 823l11.0 -11.0M217 817.5h11.0M222.5 812v11.0M217 812l11.0 11.0M217 823l11.0 -11.0M223 817.5h11.0M228.5 812v11.0M223 812l11.0 11.0M223 823l11.0 -11.0M229 817.5h11.0M234.5 812v11.0M229 812l11.0 11.0M229 823l11.0 -11.0M236 817.5h11.0M241.5 812v11.0M236 812l11.0 11.0M236 823l11.0 -11.0M242 817.5h11.0M247.5 812v11.0M242 812l11.0 11.0M242 823l11.0 -11.0M248 811.5h11.0M253.5 806v11.0M248 806l11.0 11.0M248 817l11.0 -11.0M254 811.5h11.0M259.5 806v11.0M254 806l11.0 11.0M254 817l11.0 -11.0M261 811.5h11.0M266.5 806v11.0M261 806l11.0 11.0M261 817l11.0 -11.0M267 801.5h11.0M272.5 796v11.0M267 796l11.0 11.0M267 807l11.0 -11.0M273 796.5h11.0M278.5 791v11.0M273 791l11.0 11.0M273 802l11.0 -11.0M279 796.5h11.0M284.5 791v11.0M279 791l11.0 11.0M279 802l11.0 -11.0M285 796.5h11.0M290.5 791v11.0M285 791l11.0 11.0M285 802l11.0 -11.0M292 796.5h11.0M297.5 791v11.0M292 791l11.0 11.0M292 802l11.0 -11.0M298 790.5h11.0M303.5 785v11.0M298 785l11.0 11.0M298 796l11.0 -11.0M304 790.5h11.0M309.5 785v11.0M304 785l11.0 11.0M304 796l11.0 -11.0M310 796.5h11.0M315.5 791v11.0M310 791l11.0 11.0M310 802l11.0 -11.0M317 796.5h11.0M322.5 791v11.0M317 791l11.0 11.0M317 802l11.0 -11.0M323 786.5h11.0M328.5 781v11.0M323 781l11.0 11.0M323 792l11.0 -11.0M329 786.5h11.0M334.5 781v11.0M329 781l11.0 11.0M329 792l11.0 -11.0M335 786.5h11.0M340.5 781v11.0M335 781l11.0 11.0M335 792l11.0 -11.0M342 786.5h11.0M347.5 781v11.0M342 781l11.0 11.0M342 792l11.0 -11.0M348 796.5h11.0M353.5 791v11.0M348 791l11.0 11.0M348 802l11.0 -11.0M354 796.5h11.0M359.5 791v11.0M354 791l11.0 11.0M354 802l11.0 -11.0M373 817.5h11.0M378.5 812v11.0M373 812l11.0 11.0M373 823l11.0 -11.0M392 827.5h11.0M397.5 822v11.0M392 822l11.0 11.0M392 833l11.0 -11.0M410 827.5h11.0M415.5 822v11.0M410 822l11.0 11.0M410 833l11.0 -11.0M429 832.5h11.0M434.5 827v11.0M429 827l11.0 11.0M429 838l11.0 -11.0M448 832.5h11.0M453.5 827v11.0M448 827l11.0 11.0M448 838l11.0 -11.0M466 832.5h11.0M471.5 827v11.0M466 827l11.0 11.0M466 838l11.0 -11.0M485 827.5h11.0M490.5 822v11.0M485 822l11.0 11.0M485 833l11.0 -11.0M504 842.5h11.0M509.5 837v11.0M504 837l11.0 11.0M504 848l11.0 -11.0M523 848.5h11.0M528.5 843v11.0M523 843l11.0 11.0M523 854l11.0 -11.0M541 842.5h11.0M546.5 837v11.0M541 837l11.0 11.0M541 848l11.0 -11.0M560 848.5h11.0M565.5 843v11.0M560 843l11.0 11.0M560 854l11.0 -11.0M579 848.5h11.0M584.5 843v11.0M579 843l11.0 11.0M579 854l11.0 -11.0M597 848.5h11.0M602.5 843v11.0M597 843l11.0 11.0M597 854l11.0 -11.0M616 832.5h11.0M621.5 827v11.0M616 827l11.0 11.0M616 838l11.0 -11.0M635 832.5h11.0M640.5 827v11.0M635 827l11.0 11.0M635 838l11.0 -11.0M654 848.5h11.0M659.5 843v11.0M654 843l11.0 11.0M654 854l11.0 -11.0M672 858.5h11.0M677.5 853v11.0M672 853l11.0 11.0M672 864l11.0 -11.0M691 848.5h11.0M696.5 843v11.0M691 843l11.0 11.0M691 854l11.0 -11.0M710 848.5h11.0M715.5 843v11.0M710 843l11.0 11.0M710 854l11.0 -11.0M728 848.5h11.0M733.5 843v11.0M728 843l11.0 11.0M728 854l11.0 -11.0M747 848.5h11.0M752.5 843v11.0M747 843l11.0 11.0M747 854l11.0 -11.0M766 832.5h11.0M771.5 827v11.0M766 827l11.0 11.0M766 838l11.0 -11.0M785 842.5h11.0M790.5 837v11.0M785 837l11.0 11.0M785 848l11.0 -11.0M803 863.5h11.0M808.5 858v11.0M803 858l11.0 11.0M803 869l11.0 -11.0M822 863.5h11.0M827.5 858v11.0M822 858l11.0 11.0M822 869l11.0 -11.0M841 858.5h11.0M846.5 853v11.0M841 853l11.0 11.0M841 864l11.0 -11.0M859 863.5h11.0M864.5 858v11.0M859 858l11.0 11.0M859 869l11.0 -11.0M878 863.5h11.0M883.5 858v11.0M878 858l11.0 11.0M878 869l11.0 -11.0M897 863.5h11.0M902.5 858v11.0M897 858l11.0 11.0M897 869l11.0 -11.0M916 848.5h11.0M921.5 843v11.0M916 843l11.0 11.0M916 854l11.0 -11.0M934 858.5h11.0M939.5 853v11.0M934 853l11.0 11.0M934 864l11.0 -11.0M953 863.5h11.0M958.5 858v11.0M953 858l11.0 11.0M953 869l11.0 -11.0M972 863.5h11.0M977.5 858v11.0M972 858l11.0 11.0M972 869l11.0 -11.0M990 863.5h11.0M995.5 858v11.0M990 858l11.0 11.0M990 869l11.0 -11.0M1009 863.5h11.0M1014.5 858v11.0M1009 858l11.0 11.0M1009 869l11.0 -11.0M1028 863.5h11.0M1033.5 858v11.0M1028 858l11.0 11.0M1028 869l11.0 -11.0M1047 858.5h11.0M1052.5 853v11.0M1047 853l11.0 11.0M1047 864l11.0 -11.0M1065 842.5h11.0M1070.5 837v11.0M1065 837l11.0 11.0M1065 848l11.0 -11.0M1084 842.5h11.0M1089.5 837v11.0M1084 837l11.0 11.0M1084 848l11.0 -11.0M1103 848.5h11.0M1108.5 843v11.0M1103 843l11.0 11.0M1103 854l11.0 -11.0M1121 858.5h11.0M1126.5 853v11.0M1121 853l11.0 11.0M1121 864l11.0 -11.0M1140 848.5h11.0M1145.5 843v11.0M1140 843l11.0 11.0M1140 854l11.0 -11.0M1159 848.5h11.0M1164.5 843v11.0M1159 843l11.0 11.0M1159 854l11.0 -11.0M1178 848.5h11.0M1183.5 843v11.0M1178 843l11.0 11.0M1178 854l11.0 -11.0M1196 848.5h11.0M1201.5 843v11.0M1196 843l11.0 11.0M1196 854l11.0 -11.0M1215 829.5h11.0M1220.5 824v11.0M1215 824l11.0 11.0M1215 835l11.0 -11.0M1234 823.5h11.0M1239.5 818v11.0M1234 818l11.0 11.0M1234 829l11.0 -11.0M1252 828.5h11.0M1257.5 823v11.0M1252 823l11.0 11.0M1252 834l11.0 -11.0M1271 839.5h11.0M1276.5 834v11.0M1271 834l11.0 11.0M1271 845l11.0 -11.0M1290 842.5h11.0M1295.5 837v11.0M1290 837l11.0 11.0M1290 848l11.0 -11.0M1309 842.5h11.0M1314.5 837v11.0M1309 837l11.0 11.0M1309 848l11.0 -11.0M1327 842.5h11.0M1332.5 837v11.0M1327 837l11.0 11.0M1327 848l11.0 -11.0M1365 823.5h11.0M1370.5 818v11.0M1365 818l11.0 11.0M1365 829l11.0 -11.0M1402 823.5h11.0M1407.5 818v11.0M1402 818l11.0 11.0M1402 829l11.0 -11.0M1440 829.5h11.0M1445.5 824v11.0M1440 824l11.0 11.0M1440 835l11.0 -11.0" stroke="#ffa500" stroke-width="1" fill="none"/>
<path d="M110.5 894.5v-13.5M110.5 98.5v13.5M259.5 894.5v-13.5M259.5 98.5v13.5M409.5 894.5v-13.5M409.5 98.5v13.5M559.5 894.5v-13.5M559.5 98.5v13.5M708.5 894.5v-13.5M708.5 98.5v13.5M858.5 894.5v-13.5M858.5 98.5v13.5M1008.5 894.5v-13.5M1008.5 98.5v13.5M1158.5 894.5v-13.5M1158.5 98.5v13.5M1307.5 894.5v-13.5M1307.5 98.5v13.5M1457.5 894.5v-13.5M1457.5 98.5v13.5M110.5 894.5h13.5M1457.5 894.5h-13.5M110.5 795.5h13.5M1457.5 795.5h-13.5M110.5 695.5h13.5M1457.5 695.5h-13.5M110.5 596.5h13.5M1457.5 596.5h-13.5M110.5 496.5h13.5M1457.5 496.5h-13.5M110.5 397.5h13.5M1457.5 397.5h-13.5M110.5 297.5h13.5M1457.5 297.5h-13.5M110.5 198.5h13.5M1457.5 198.5h-13.5M110.5 98.5h13.5M1457.5 98.5h-13.5" stroke="#000" stroke-width="1" fill="none"/>
<rect x="110.5" y="98.5" width="1347" height="796" fill="none" stroke="#000" stroke-width="1"/>
<path d="M1390 123h9v9h-9z" fill="#0000cd"/>
<path d="M1389 160.5a5.5 5.5 0 1 0 11.0 0a5.5 5.5 0 1 0 -11.0 0z" fill="#006400"/>
<path d="M1394.5 187.5L1400.2 197.9H1388.8z" fill="#ff0000"/>
<path d="M1394.5 232.2L1400.2 221.9H1388.8z" fill="#000000"/>
<path d="M1394.5 252.9L1400.1 258.5L1394.5 264.1L1388.9 258.5z" fill="#bebebe"/>
<path d="M1394.5 296.8L1389.2 292.9L1391.2 286.6L1397.8 286.6L1399.8 292.9z" fill="#87ceeb"/>
<path d="M1389 324.5h11.0M1394.5 319v11.0M1389 319l11.0 11.0M1389 330l11.0 -11.0" stroke="#ffa500" stroke-width="1" fill="none"/>
<text x="95.8" y="903.8" font-size="23" text-anchor="end">0</text>
<text x="95.8" y="804.8" font-size="23" text-anchor="end">5</text>
<text x="95.8" y="704.8" font-size="23" text-anchor="end" textLength="27" lengthAdjust="spacingAndGlyphs">10</text>
<text x="95.8" y="605.8" font-size="23" text-anchor="end" textLength="27" lengthAdjust="spacingAndGlyphs">15</text>
<text x="95.8" y="505.8" font-size="23" text-anchor="end" textLength="27" lengthAdjust="spacingAndGlyphs">20</text>
<text x="95.8" y="406.8" font-size="23" text-anchor="end" textLength="27" lengthAdjust="spacingAndGlyphs">25</text>
<text x="95.8" y="306.8" font-size="23" text-anchor="end" textLength="27" lengthAdjust="spacingAndGlyphs">30</text>
<text x="95.8" y="207.8" font-size="23" text-anchor="end" textLength="27" lengthAdjust="spacingAndGlyphs">35</text>
<text x="95.8" y="107.8" font-size="23" text-anchor="end" textLength="27" lengthAdjust="spacingAndGlyphs">40</text>
<text x="110.5" y="936" font-size="23" text-anchor="middle" textLength="65" lengthAdjust="spacingAndGlyphs">01/14</text>
<text x="259.5" y="936" font-size="23" text-anchor="middle" textLength="65" lengthAdjust="spacingAndGlyphs">01/15</text>
<text x="409.5" y="936" font-size="23" text-anchor="middle" textLength="65" lengthAdjust="spacingAndGlyphs">01/16</text>
<text x="559.5" y="936" font-size="23" text-anchor="middle" textLength="65" lengthAdjust="spacingAndGlyphs">01/17</text>
<text x="708.5" y="936" font-size="23" text-anchor="middle" textLength="65" lengthAdjust="spacingAndGlyphs">01/18</text>
<text x="858.5" y="936" font-size="23" text-anchor="middle" textLength="65" lengthAdjust="spacingAndGlyphs">01/19</text>
<text x="1008.5" y="936" font-size="23" text-anchor="middle" textLength="65" lengthAdjust="spacingAndGlyphs">01/20</text>
<text x="1158.5" y="936" font-size="23" text-anchor="middle" textLength="65" lengthAdjust="spacingAndGlyphs">01/21</text>
<text x="1307.5" y="936" font-size="23" text-anchor="middle" textLength="65" lengthAdjust="spacingAndGlyphs">01/22</text>
<text x="1457.5" y="936" font-size="23" text-anchor="middle" textLength="65" lengthAdjust="spacingAndGlyphs">01/23</text>
<text x="784.3" y="985.6" font-size="24.5" font-weight="bold" text-anchor="middle" textLength="55.7" lengthAdjust="spacingAndGlyphs">Date</text>
<text x="422.00" y="58.6" font-size="24.5" font-weight="bold" textLength="44.30" lengthAdjust="spacingAndGlyphs">Tier</text>
<text x="472.39" y="58.6" font-size="24.5" font-weight="bold" textLength="13.74" lengthAdjust="spacingAndGlyphs">2</text>
<text x="493.43" y="58.6" font-size="24.5" font-weight="bold" textLength="38.57" lengthAdjust="spacingAndGlyphs">FID</text>
<text x="538.40" y="58.6" font-size="24.5" font-weight="bold" textLength="27.37" lengthAdjust="spacingAndGlyphs">84</text>
<text x="573.41" y="58.6" font-size="24.5" font-weight="bold" textLength="43.06" lengthAdjust="spacingAndGlyphs">dist</text>
<text x="624.73" y="58.6" font-size="24.5" font-weight="bold" textLength="6.67" lengthAdjust="spacingAndGlyphs">-</text>
<text x="637.46" y="58.6" font-size="24.5" font-weight="bold" textLength="51.19" lengthAdjust="spacingAndGlyphs">PW3</text>
<text x="695.71" y="58.6" font-size="24.5" font-weight="bold" textLength="6.87" lengthAdjust="spacingAndGlyphs">-</text>
<text x="710.60" y="58.6" font-size="24.5" font-weight="bold" textLength="60.06" lengthAdjust="spacingAndGlyphs">Wind</text>
<text x="775.39" y="58.6" font-size="24.5" font-weight="bold" textLength="71.11" lengthAdjust="spacingAndGlyphs">speed</text>
<text x="852.69" y="58.6" font-size="24.5" font-weight="bold" textLength="7.07" lengthAdjust="spacingAndGlyphs">-</text>
<text x="865.50" y="58.6" font-size="24.5" font-weight="bold" textLength="132.53" lengthAdjust="spacingAndGlyphs">01/14/2026</text>
<text x="1003.79" y="58.6" font-size="24.5" font-weight="bold" textLength="39.82" lengthAdjust="spacingAndGlyphs">12z</text>
<text x="1051.00" y="58.6" font-size="24.5" font-weight="bold" textLength="95.13" lengthAdjust="spacingAndGlyphs">forecast</text>
<text transform="translate(36.4,496.7) rotate(-90)" font-size="24.5" font-weight="bold" text-anchor="middle" textLength="273.2" lengthAdjust="spacingAndGlyphs">20-ft wind speed (mph)</text>
<text x="1346.3" y="137" font-size="23" text-anchor="end" textLength="85.4" lengthAdjust="spacingAndGlyphs">ECMWF</text>
<text x="1346.3" y="169.7" font-size="23" text-anchor="end" textLength="64.5" lengthAdjust="spacingAndGlyphs">HRRR</text>
<text x="1346.3" y="202.4" font-size="23" text-anchor="end" textLength="116" lengthAdjust="spacingAndGlyphs">NAM 3 km</text>
<text x="1346.3" y="235.1" font-size="23" text-anchor="end" textLength="129.8" lengthAdjust="spacingAndGlyphs">NAM 12 km</text>
<text x="1346.3" y="267.8" font-size="23" text-anchor="end" textLength="120.4" lengthAdjust="spacingAndGlyphs">GFS 0.125°</text>
<text x="1346.3" y="300.5" font-size="23" text-anchor="end" textLength="120.4" lengthAdjust="spacingAndGlyphs">GFS 0.250°</text>
<text x="1346.3" y="333.2" font-size="23" text-anchor="end" textLength="54.9" lengthAdjust="spacingAndGlyphs">NBM</text>
</svg></body></html>
